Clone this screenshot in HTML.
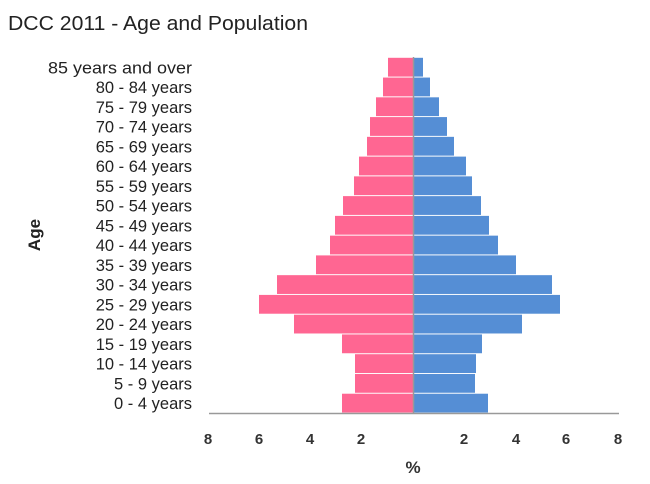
<!DOCTYPE html>
<html><head><style>
body{margin:0;background:#fff;width:650px;height:479px;overflow:hidden;font-family:"Liberation Sans",sans-serif}
</style></head><body>
<svg width="650" height="479" xmlns="http://www.w3.org/2000/svg" font-family="Liberation Sans, sans-serif">
<text x="8" y="30" font-size="20" fill="#222" textLength="300" lengthAdjust="spacingAndGlyphs">DCC 2011 - Age and Population</text>
<g id="bars"></g>
<line x1="209" y1="413.5" x2="619" y2="413.5" stroke="#999" stroke-width="1.5"/>
<line x1="413.5" y1="57" x2="413.5" y2="413" stroke="#999" stroke-width="1.5"/>
<g font-size="15" font-weight="bold" fill="#333" text-anchor="middle">
<text x="208" y="444">8</text><text x="259" y="444">6</text><text x="310" y="444">4</text><text x="361" y="444">2</text>
<text x="464" y="444">2</text><text x="516" y="444">4</text><text x="566" y="444">6</text><text x="618" y="444">8</text>
<text x="413" y="473" font-size="17">%</text>
</g>
<text transform="translate(40,235) rotate(-90)" font-size="17" font-weight="bold" text-anchor="middle" fill="#222">Age</text>
<g id="labels" font-size="16.5" fill="#222" text-anchor="end"></g>
</svg>
<script>
var labels=["85 years and over","80 - 84 years","75 - 79 years","70 - 74 years","65 - 69 years","60 - 64 years","55 - 59 years","50 - 54 years","45 - 49 years","40 - 44 years","35 - 39 years","30 - 34 years","25 - 29 years","20 - 24 years","15 - 19 years","10 - 14 years","5 - 9 years","0 - 4 years"];
var L=[388,383,376,370,367,359,354,343,335,330,316,277,259,294,342,355,355,342];
var R=[423,430,439,447,454,466,472,481,489,498,516,552,560,522,482,476,475,488];
var ns="http://www.w3.org/2000/svg",b=document.getElementById("bars"),lg=document.getElementById("labels");
for(var i=0;i<18;i++){var y=57.3+i*19.76;
var r=document.createElementNS(ns,"rect");r.setAttribute("x",L[i]);r.setAttribute("y",y+0.5);r.setAttribute("width",413.5-L[i]);r.setAttribute("height",18.8);r.setAttribute("fill","#FF6692");b.appendChild(r);
r=document.createElementNS(ns,"rect");r.setAttribute("x",413.5);r.setAttribute("y",y+0.5);r.setAttribute("width",R[i]-413.5);r.setAttribute("height",18.8);r.setAttribute("fill","#558ED5");b.appendChild(r);
var t=document.createElementNS(ns,"text");t.setAttribute("x",192);t.setAttribute("y",y+16);t.textContent=labels[i];
if(i==0){t.setAttribute("textLength","144");t.setAttribute("lengthAdjust","spacingAndGlyphs");}
lg.appendChild(t);}
</script>
</body></html>
